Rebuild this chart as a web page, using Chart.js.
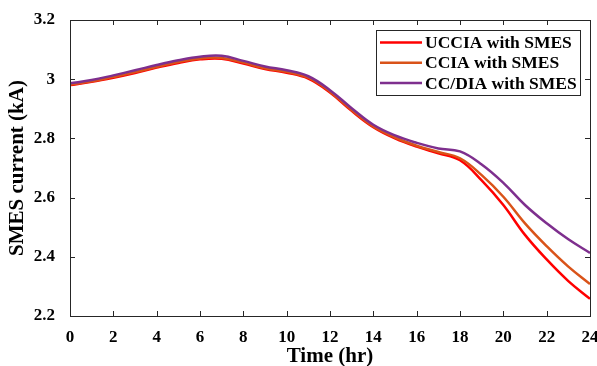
<!DOCTYPE html>
<html>
<head>
<meta charset="utf-8">
<script src="https://cdn.jsdelivr.net/npm/chart.js@4.4.1/dist/chart.umd.min.js"></script>
<style>
  html, body { margin: 0; padding: 0; background: #fff; }
  #wrap { width: 597px; height: 366px; position: relative; }
</style>
</head>
<body>
<div id="wrap"><canvas id="mycanvas"></canvas></div>
<script>
var hours = [0,1,2,3,4,5,6,7,8,9,10,11,12,13,14,15,16,17,18,19,20,21,22,23,24];
var uccia = [2.980,2.991,3.005,3.021,3.039,3.055,3.067,3.069,3.053,3.034,3.022,3.002,2.955,2.893,2.838,2.800,2.772,2.750,2.726,2.658,2.575,2.474,2.391,2.318,2.258];
var ccia  = [2.982,2.993,3.008,3.024,3.042,3.058,3.070,3.072,3.056,3.037,3.025,3.005,2.958,2.896,2.840,2.803,2.775,2.754,2.733,2.676,2.603,2.513,2.436,2.367,2.308];
var ccdia = [2.986,2.997,3.013,3.030,3.048,3.064,3.076,3.079,3.062,3.043,3.030,3.010,2.963,2.902,2.846,2.810,2.785,2.766,2.756,2.712,2.650,2.575,2.513,2.459,2.413];
var seriesNames = ['UCCIA with SMES', 'CCIA with SMES', 'CC/DIA with SMES'];
var seriesColors = ['#ff0000', '#d95319', '#7e2f8e'];
var xTicks = [0,2,4,6,8,10,12,14,16,18,20,22,24];
var yTicks = [2.2,2.4,2.6,2.8,3.0,3.2];

function pts(ys) {
  var out = [];
  for (var i = 0; i < hours.length; i++) out.push({x: hours[i], y: ys[i]});
  return out;
}

// box, inward ticks and legend, MATLAB style
var boxPlugin = {
  id: 'box',
  afterDraw: function(chart) {
    var ctx = chart.ctx, a = chart.chartArea;
    var xs = chart.scales.x, ys = chart.scales.y;
    ctx.save();
    ctx.strokeStyle = '#262626';
    ctx.lineWidth = 1;
    ctx.strokeRect(a.left + 0.5, a.top + 0.5, a.right - a.left, a.bottom - a.top);
    ctx.beginPath();
    xTicks.forEach(function(t) {
      var px = Math.round(xs.getPixelForValue(t)) + 0.5;
      ctx.moveTo(px, a.bottom); ctx.lineTo(px, a.bottom - 5);
      ctx.moveTo(px, a.top); ctx.lineTo(px, a.top + 5);
    });
    yTicks.forEach(function(t) {
      var py = Math.round(ys.getPixelForValue(t)) + 0.5;
      ctx.moveTo(a.left, py); ctx.lineTo(a.left + 5, py);
      ctx.moveTo(a.right, py); ctx.lineTo(a.right - 5, py);
    });
    ctx.stroke();

    // legend
    var lx = 376, ly = 30, lw = 204, lh = 65;
    ctx.fillStyle = '#fff';
    ctx.fillRect(lx, ly, lw, lh);
    ctx.strokeStyle = '#262626';
    ctx.strokeRect(lx + 0.5, ly + 0.5, lw, lh);
    ctx.font = 'bold 17.5px "Liberation Serif", "Times New Roman", serif';
    ctx.textBaseline = 'middle';
    for (var i = 0; i < seriesNames.length; i++) {
      var yy = ly + 12.5 + i * 20.3;
      ctx.strokeStyle = seriesColors[i];
      ctx.lineWidth = 2.5;
      ctx.beginPath();
      ctx.moveTo(lx + 4, yy); ctx.lineTo(lx + 46, yy);
      ctx.stroke();
      ctx.fillStyle = '#000';
      ctx.fillText(seriesNames[i], lx + 49, yy + 1);
    }
    ctx.restore();
  }
};

var font = { family: '"Liberation Serif", "Times New Roman", serif', weight: 'bold', size: 17 };
var titleFont = { family: '"Liberation Serif", "Times New Roman", serif', weight: 'bold', size: 21 };

var chartdata = {
  datasets: [
    { label: seriesNames[0], data: pts(uccia), borderColor: seriesColors[0], order: 3 },
    { label: seriesNames[1], data: pts(ccia), borderColor: seriesColors[1], order: 2 },
    { label: seriesNames[2], data: pts(ccdia), borderColor: seriesColors[2], order: 1 }
  ]
};

var ctx = document.getElementById('mycanvas');
var lineGraph = new Chart(ctx, {
  type: 'line',
  data: chartdata,
  plugins: [boxPlugin],
  options: {
    responsive: true,
    maintainAspectRatio: false,
    animation: false,
    layout: { padding: { top: 20, right: 7, left: 0, bottom: 0 } },
    elements: {
      point: { radius: 0 },
      line: { borderWidth: 2.5, tension: 0.4, fill: false }
    },
    plugins: { legend: { display: false }, tooltip: { enabled: false } },
    scales: {
      x: {
        type: 'linear', min: 0, max: 24,
        afterBuildTicks: function(s) { s.ticks = xTicks.map(function(v) { return {value: v}; }); },
        afterFit: function(s) { s.height = 50; s.paddingLeft = 0; s.paddingRight = 0; },
        grid: { display: false },
        border: { display: false },
        ticks: { color: '#000', font: font, padding: 3, maxRotation: 0 },
        title: { display: true, text: 'Time (hr)', color: '#000', font: titleFont, padding: { top: 0, bottom: -3 } }
      },
      y: {
        min: 2.2, max: 3.2,
        afterBuildTicks: function(s) { s.ticks = yTicks.map(function(v) { return {value: v}; }); },
        afterFit: function(s) { s.width = 70; },
        grid: { display: false },
        border: { display: false },
        ticks: {
          color: '#000', font: font, padding: 7,
          callback: function(v) { return String(Math.round(v * 10) / 10); }
        },
        title: { display: true, text: 'SMES current (kA)', color: '#000', font: titleFont, padding: { top: 5, bottom: 0 } }
      }
    }
  }
});
</script>
</body>
</html>
